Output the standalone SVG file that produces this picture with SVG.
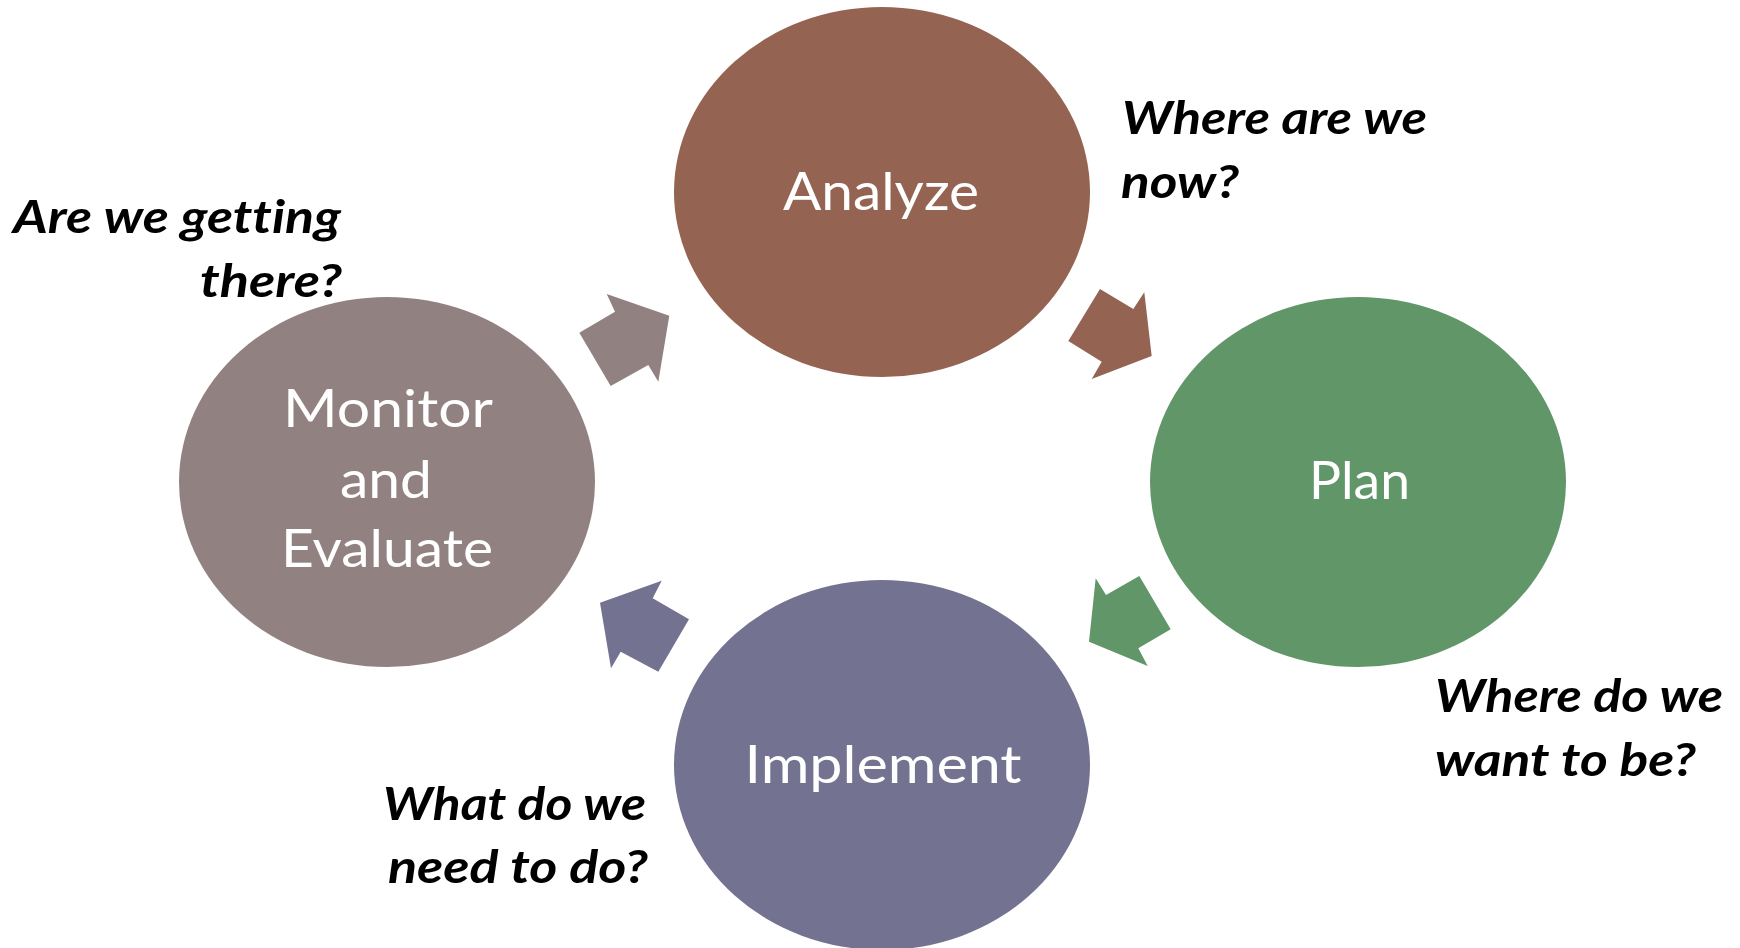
<svg xmlns="http://www.w3.org/2000/svg" width="1740" height="948" viewBox="0 0 1740 948">
<style>
.lbl{font-family:Lato,"Open Sans","DejaVu Sans",sans-serif;font-size:53px;fill:#ffffff;text-anchor:middle}
.q{font-family:Lato,"Open Sans","DejaVu Sans",sans-serif;font-size:46px;font-weight:bold;font-style:italic;fill:#000000;font-variant-ligatures:none}
</style>
<rect width="1740" height="948" fill="#ffffff"/>
<g id="connectors">
<polygon fill="#956352" points="1100,289 1133.3,309 1144.3,292.3 1151.7,356 1091.7,379 1101.7,361.7 1068.3,341"/>
<polygon fill="#619669" points="1139.3,576 1170.7,629.3 1138.3,648.3 1147.7,666 1089,641.7 1095.7,578.3 1106,595"/>
<polygon fill="#737290" points="661.7,580.7 652.7,598.3 689,619.3 658.3,671.7 620.7,651.7 611,668.3 600,602.7"/>
<polygon fill="#918281" points="606.7,294 669.3,315.7 658.3,381.7 648.3,365 610.7,386 579.3,332.7 615,311.7"/>
</g>
<g id="analyze">
<ellipse cx="882" cy="192" rx="208" ry="185" fill="#956352"/>
<text class="lbl" x="881" y="210" textLength="196" lengthAdjust="spacingAndGlyphs">Analyze</text>
</g>
<g id="plan">
<ellipse cx="1358" cy="482" rx="208" ry="185" fill="#619669"/>
<text class="lbl" x="1359.5" y="499" textLength="101" lengthAdjust="spacingAndGlyphs">Plan</text>
</g>
<g id="implement">
<ellipse cx="882" cy="765" rx="208" ry="185" fill="#737290"/>
<text class="lbl" x="883" y="782.7" textLength="277" lengthAdjust="spacingAndGlyphs">Implement</text>
</g>
<g id="monitor">
<ellipse cx="387" cy="482" rx="208" ry="185" fill="#918281"/>
<text class="lbl" x="388" y="427.3" textLength="210" lengthAdjust="spacingAndGlyphs">Monitor</text>
<text class="lbl" x="386" y="498.3" textLength="92" lengthAdjust="spacingAndGlyphs">and</text>
<text class="lbl" x="387" y="566.7" textLength="212" lengthAdjust="spacingAndGlyphs">Evaluate</text>
</g>
<g id="q-analyze">
<text class="q" x="1122" y="134" textLength="305" lengthAdjust="spacingAndGlyphs">Where are we</text>
<text class="q" x="1121" y="198" textLength="118" lengthAdjust="spacingAndGlyphs">now?</text>
</g>
<g id="q-plan">
<text class="q" x="1435" y="712" textLength="288" lengthAdjust="spacingAndGlyphs">Where do we</text>
<text class="q" x="1435" y="776" textLength="261" lengthAdjust="spacingAndGlyphs">want to be?</text>
</g>
<g id="q-implement">
<text class="q" x="383" y="820" textLength="263" lengthAdjust="spacingAndGlyphs">What do we</text>
<text class="q" x="388" y="883" textLength="260" lengthAdjust="spacingAndGlyphs">need to do?</text>
</g>
<g id="q-monitor">
<text class="q" x="13" y="233" textLength="328" lengthAdjust="spacingAndGlyphs">Are we getting</text>
<text class="q" x="200" y="297" textLength="142" lengthAdjust="spacingAndGlyphs">there?</text>
</g>
</svg>
